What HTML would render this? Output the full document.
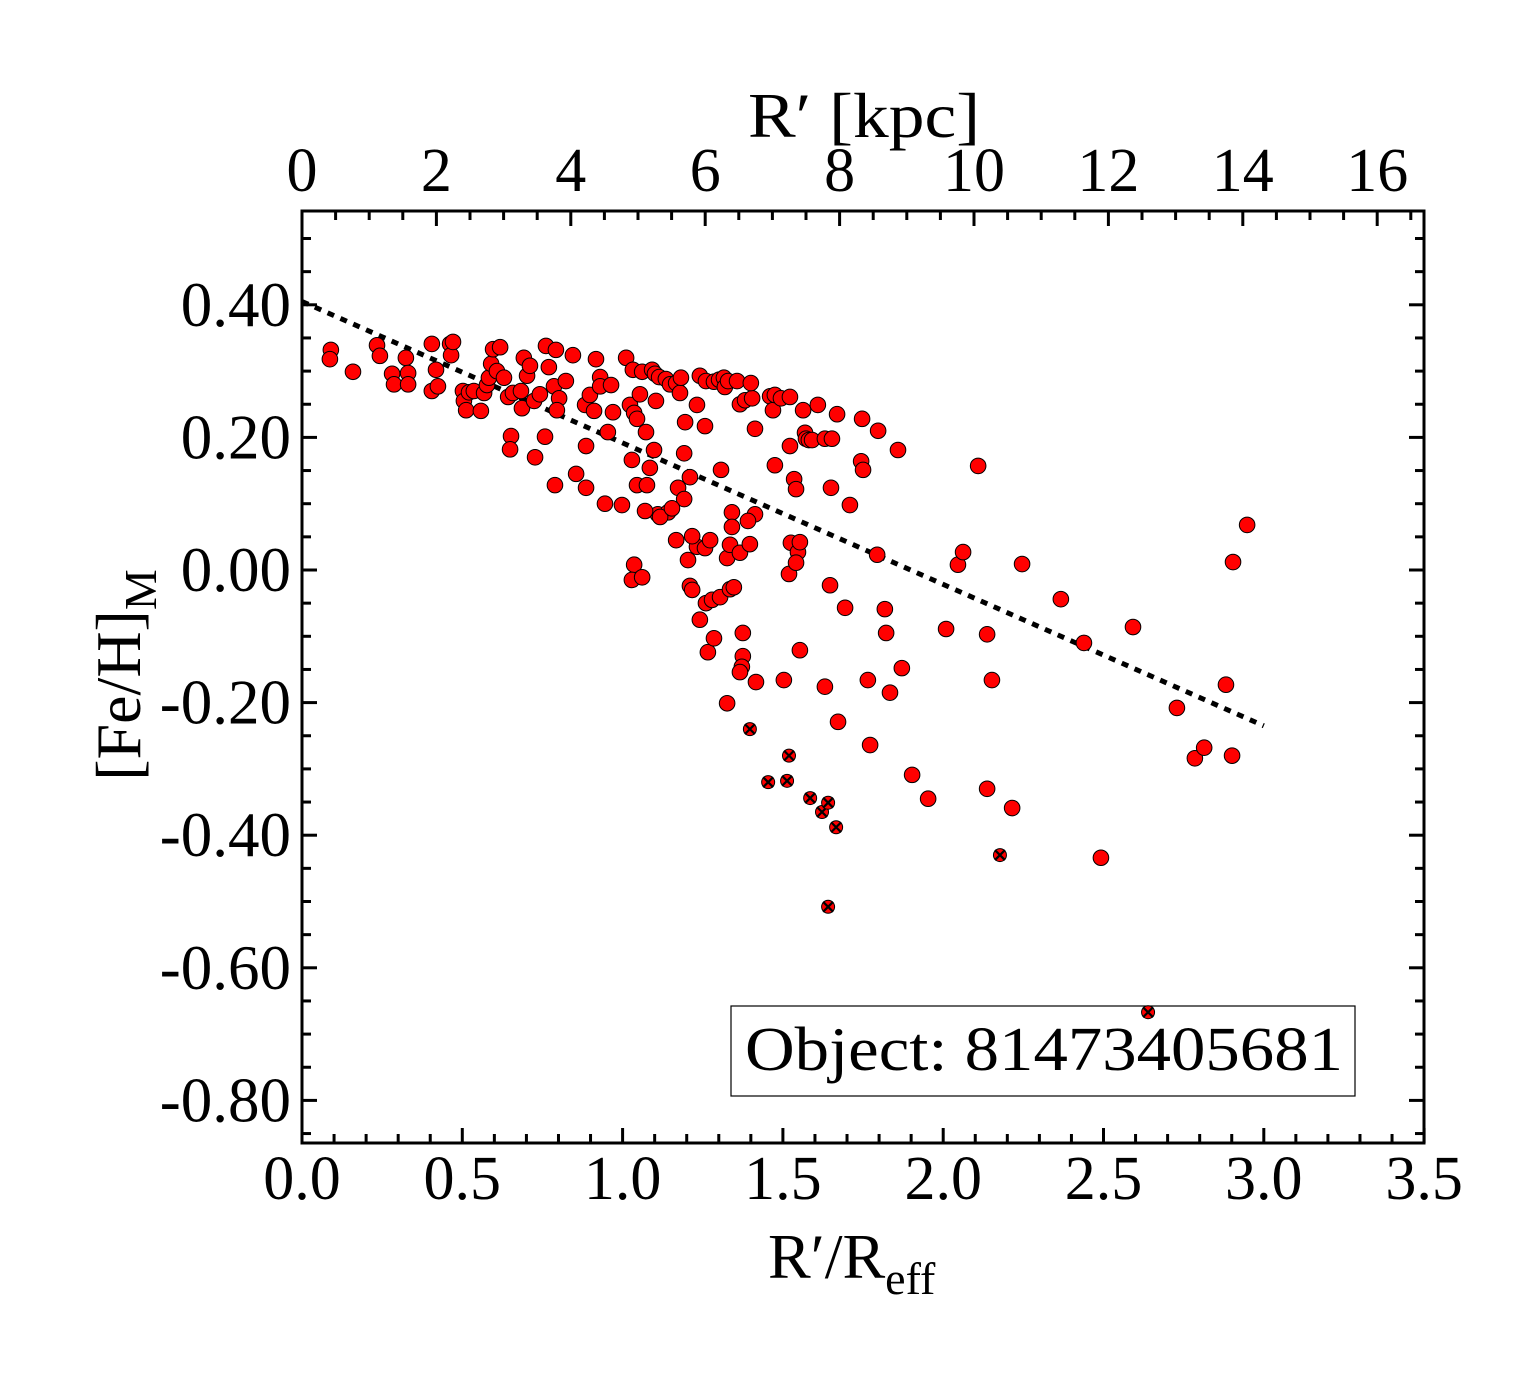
<!DOCTYPE html>
<html><head><meta charset="utf-8"><style>
html,body{margin:0;padding:0;background:#fff;}
svg{display:block;}
text{font-family:"Liberation Serif","Times New Roman",serif;fill:#000;}
</style></head><body>
<svg id="chart" width="1540" height="1375" viewBox="0 0 1540 1375" xmlns="http://www.w3.org/2000/svg">
<rect width="1540" height="1375" fill="#fff"/>
<g>
<rect x="731" y="1006" width="624" height="90" fill="#fff" stroke="#000" stroke-width="1.2"/>
<text x="745" y="1070" font-size="62" textLength="598" lengthAdjust="spacingAndGlyphs">Object: 81473405681</text>
</g>
<g id="ticks"></g>
<g id="labels"></g>
<g id="fit"></g>
<g id="pts"></g>
<rect x="302" y="211" width="1122" height="932" fill="none" stroke="#000" stroke-width="3"/>
<text x="748" y="137" font-size="64" textLength="232" lengthAdjust="spacingAndGlyphs">R′ [kpc]</text>
<text x="768" y="1278" font-size="64">R′/R<tspan font-size="46" dy="16">eff</tspan></text>
<text transform="translate(140,675) rotate(-90)" font-size="64" text-anchor="middle">[Fe/H]<tspan font-size="46" dy="16">M</tspan></text>
</svg>
<script>
const xs = [0.090,0.087,0.159,0.234,0.243,0.281,0.287,0.324,0.331,0.331,0.405,0.405,0.418,0.424,0.462,0.465,0.471,0.502,0.505,0.512,0.521,0.536,0.558,0.568,0.577,0.583,0.590,0.596,0.608,0.618,0.630,0.643,0.652,0.649,0.658,0.683,0.686,0.692,0.702,0.711,0.724,0.727,0.742,0.758,0.761,0.770,0.792,0.786,0.789,0.802,0.795,0.823,0.845,0.855,0.883,0.886,0.886,0.898,0.911,0.917,0.930,0.930,0.945,0.954,0.964,0.970,0.998,1.011,1.023,1.029,1.032,1.036,1.045,1.045,1.061,1.054,1.073,1.085,1.092,1.101,1.104,1.110,1.114,1.135,1.142,1.148,1.167,1.173,1.179,1.182,1.210,1.232,1.241,1.257,1.232,1.257,1.260,1.273,1.285,1.301,1.307,1.316,1.319,1.329,1.341,1.357,1.366,1.382,1.404,1.400,1.413,1.413,1.460,1.469,1.475,1.475,1.494,1.522,1.522,1.535,1.541,1.525,1.547,1.553,1.563,1.569,1.572,1.581,1.591,1.609,1.631,1.650,1.653,1.669,1.709,1.747,1.744,1.750,1.797,1.859,2.109,1.195,1.192,1.192,1.217,1.204,1.210,1.217,1.241,1.260,1.266,1.285,1.279,1.304,1.335,1.326,1.347,1.341,1.335,1.366,1.391,1.397,1.036,1.029,1.061,1.070,1.117,1.076,1.098,1.154,1.167,1.375,1.375,1.372,1.366,1.326,1.416,1.503,1.519,1.541,1.553,1.647,1.631,1.672,1.694,1.765,1.772,1.818,1.822,1.834,1.871,1.903,1.953,2.009,2.046,2.062,2.137,2.137,2.152,2.215,2.246,2.367,2.439,2.592,2.492,2.729,2.785,2.814,2.882,2.901,2.904,2.948,1.794];
const ys = [0.332,0.318,0.299,0.339,0.323,0.296,0.280,0.320,0.297,0.280,0.341,0.270,0.302,0.277,0.341,0.324,0.344,0.270,0.255,0.241,0.268,0.270,0.240,0.267,0.279,0.290,0.311,0.333,0.300,0.336,0.290,0.261,0.202,0.182,0.267,0.270,0.244,0.320,0.293,0.308,0.255,0.170,0.265,0.201,0.338,0.306,0.332,0.277,0.128,0.259,0.241,0.285,0.324,0.145,0.249,0.187,0.124,0.264,0.240,0.318,0.291,0.277,0.100,0.208,0.279,0.238,0.098,0.320,0.249,0.166,0.302,0.237,0.128,0.228,0.299,0.265,0.208,0.154,0.302,0.296,0.255,0.084,0.291,0.288,0.087,0.280,0.282,0.124,0.267,0.290,0.140,0.249,0.293,0.217,0.035,0.033,0.285,0.045,0.284,0.287,0.151,0.290,0.276,0.285,0.087,0.285,0.250,0.256,0.259,0.282,0.213,0.084,0.262,0.241,0.264,0.158,0.259,0.261,0.187,0.137,0.122,0.041,0.027,0.042,0.241,0.207,0.198,0.196,0.196,0.249,0.198,0.124,0.198,0.235,0.098,0.228,0.164,0.151,0.210,0.181,0.157,0.223,0.107,0.176,0.051,0.015,-0.024,-0.030,-0.075,-0.050,-0.124,-0.103,-0.045,-0.041,-0.029,0.018,-0.026,0.065,0.038,0.026,0.074,0.039,0.008,-0.015,-0.011,0.089,0.080,0.128,0.181,0.093,0.045,-0.095,-0.130,-0.146,-0.154,-0.201,-0.169,-0.166,-0.006,0.011,-0.121,-0.023,-0.176,-0.229,-0.057,-0.166,-0.264,-0.059,-0.095,-0.185,-0.148,-0.309,-0.345,-0.089,0.008,0.027,-0.097,-0.330,-0.166,-0.359,0.009,-0.044,-0.110,-0.086,-0.434,-0.208,-0.284,-0.268,-0.173,-0.280,0.012,0.068,0.023];
const crossX = [1.397,1.454,1.513,1.519,1.585,1.622,1.641,1.666,1.641,2.177,2.639];
const crossY = [-0.240,-0.320,-0.318,-0.280,-0.344,-0.365,-0.351,-0.388,-0.508,-0.430,-0.667];
const fitX = [0.0, 3.0];
const fitY = [0.405, -0.235];
const xTickLabels = ["0.0","0.5","1.0","1.5","2.0","2.5","3.0","3.5"];
const yTickLabels = ["0.40","0.20","0.00","-0.20","-0.40","-0.60","-0.80"];
const topTickLabels = ["0","2","4","6","8","10","12","14","16"];

const NS = "http://www.w3.org/2000/svg";
const X0 = 302, X1 = 1424, Y0 = 211, Y1 = 1143;
const sx = v => 302 + v * 320.6;
const sy = v => 570 - v * 663;
const skpc = v => 302 + v * 67.2;
function mk(tag, attrs, parent) {
  const e = document.createElementNS(NS, tag);
  for (const k in attrs) e.setAttribute(k, attrs[k]);
  parent.appendChild(e);
  return e;
}
const gT = document.getElementById('ticks');
const gL = document.getElementById('labels');
const gF = document.getElementById('fit');
const gP = document.getElementById('pts');

for (let i = 0; i <= 35; i++) {
  const v = i / 10, px = sx(v), major = i % 5 === 0, len = major ? 15 : 9;
  const t = mk('line', {x1: px, x2: px, y1: Y1, y2: Y1 - len, stroke: '#000', 'stroke-width': 3}, gT);
  
  
}
for (let i = 0; i <= 33; i++) {
  const v = i / 2, px = skpc(v); if (px > X1) break;
  const major = i % 4 === 0, len = major ? 15 : 9;
  const t = mk('line', {x1: px, x2: px, y1: Y0, y2: Y0 + len, stroke: '#000', 'stroke-width': 3}, gT);
  
  
}
for (let i = -17; i <= 10; i++) {
  const v = i * 0.05, py = sy(v);
  if (py < Y0 || py > Y1) continue;
  const major = i % 4 === 0, len = major ? 15 : 9;
  const a = mk('line', {x1: X0, x2: X0 + len, y1: py, y2: py, stroke: '#000', 'stroke-width': 3}, gT);
  
  
  const b = mk('line', {x1: X1, x2: X1 - len, y1: py, y2: py, stroke: '#000', 'stroke-width': 3}, gT);
  
  
}
xTickLabels.forEach((s, i) => {
  const t = mk('text', {x: sx(i * 0.5), y: 1199, 'font-size': 62, 'text-anchor': 'middle'}, gL);
  t.textContent = s;
  
  
});
topTickLabels.forEach((s, i) => {
  const t = mk('text', {x: skpc(i * 2), y: 191, 'font-size': 62, 'text-anchor': 'middle'}, gL);
  t.textContent = s;
  
  
});
yTickLabels.forEach((s, i) => {
  const t = mk('text', {x: 291, y: sy(0.4 - i * 0.2) + 21, 'font-size': 63, 'text-anchor': 'end'}, gL);
  t.textContent = s;
  
  
});
const fl = mk('line', {x1: sx(fitX[0]), y1: sy(fitY[0]), x2: sx(fitX[1]), y2: sy(fitY[1]), stroke: '#000', 'stroke-width': 5, 'stroke-dasharray': '7,7'}, gF);


xs.forEach((v, i) => {
  const c = mk('circle', {cx: sx(v), cy: sy(ys[i]), r: 7.8, fill: '#ff0000', stroke: '#000', 'stroke-width': 1}, gP);
  
  
});
crossX.forEach((v, i) => {
  const cx = sx(v), cy = sy(crossY[i]);
  const g = mk('g', {}, gP);
  
  
  mk('circle', {cx: cx, cy: cy, r: 6.5, fill: '#ff0000', stroke: '#000', 'stroke-width': 1}, g);
  mk('path', {d: `M${cx-5},${cy-5}L${cx+5},${cy+5}M${cx-5},${cy+5}L${cx+5},${cy-5}`, stroke: '#000', 'stroke-width': 2.2}, g);
});
</script>
</body></html>
